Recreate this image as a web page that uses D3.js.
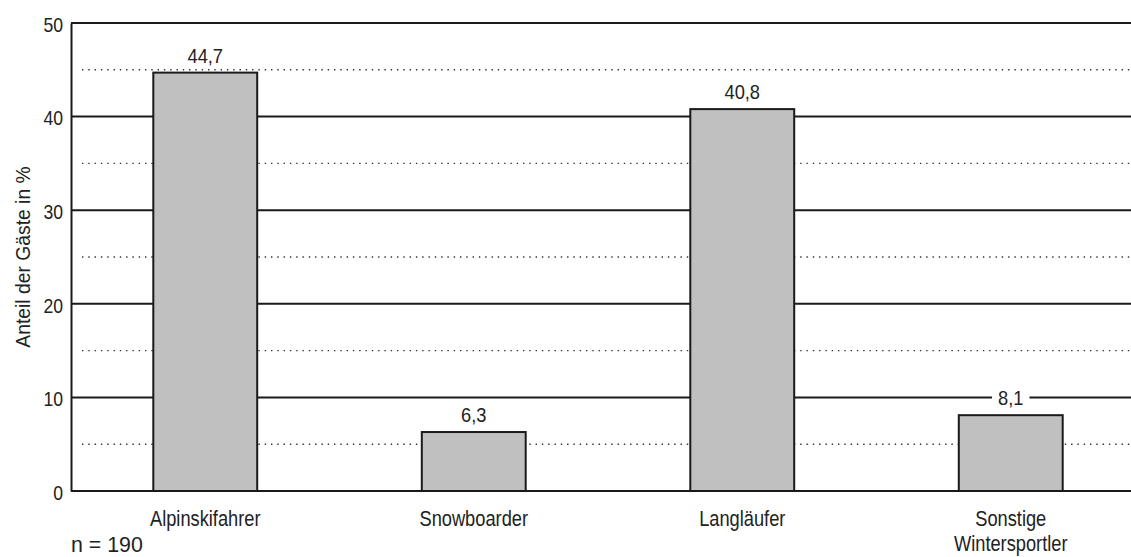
<!DOCTYPE html>
<html>
<head>
<meta charset="utf-8">
<script src="https://cdn.jsdelivr.net/npm/d3@7"></script>
<style>
  html, body { margin: 0; padding: 0; background: #fff; }
  svg { display: block; font-family: "Liberation Sans", Arial, sans-serif; }
</style>
</head>
<body>
<svg id="chart" width="1131" height="557"></svg>
<script>
// Wintersportarten der Gäste (Anteil in %)
const categories = ["Alpinskifahrer", "Snowboarder", "Langläufer", "Sonstige\nWintersportler"];
const shares = [44.7, 6.3, 40.8, 8.1];
const valueLabels = ["44,7", "6,3", "40,8", "8,1"];
const majorTicks = [0, 10, 20, 30, 40, 50];
const minorTicks = [5, 15, 25, 35, 45];
const yTitle = "Anteil der Gäste in %";
const sampleNote = "n = 190";

const W = 1131, H = 557;
const plotLeft = 71, plotTop = 23, plotBottom = 491;
const ink = "#222";

const svg = d3.select("#chart");

// condensed lettering: place at (px, py) and squeeze horizontally
const narrow = (px, py, sx, rot) =>
  `translate(${px},${py})${rot ? ` rotate(${rot})` : ""} scale(${sx},1)`;

const x = d3.scaleBand()
  .domain(categories)
  .range([plotLeft, plotLeft + 4 * 268.5])
  .paddingInner(0.613)
  .paddingOuter(0.3065);

const y = d3.scaleLinear().domain([0, 50]).range([plotBottom, plotTop]);

// dotted intermediate lines
svg.append("g")
  .selectAll("line")
  .data(minorTicks)
  .join("line")
  .attr("x1", plotLeft + 11).attr("x2", W)
  .attr("y1", d => y(d)).attr("y2", d => y(d))
  .attr("stroke", "#333")
  .attr("stroke-width", 1.4)
  .attr("stroke-dasharray", "1.4,4.9");

// solid grid lines (including the baseline)
svg.append("g")
  .selectAll("line")
  .data(majorTicks)
  .join("line")
  .attr("x1", plotLeft).attr("x2", W)
  .attr("y1", d => y(d)).attr("y2", d => y(d))
  .attr("stroke", "#1a1a1a")
  .attr("stroke-width", 2);

// y axis with labels, no outer ticks
const yAxis = svg.append("g")
  .attr("transform", `translate(${plotLeft},0)`)
  .call(d3.axisLeft(y).tickValues(majorTicks).tickSize(0).tickFormat(d3.format("d")));
yAxis.select(".domain").attr("stroke", "#1a1a1a").attr("stroke-width", 2);
yAxis.selectAll("text")
  .attr("font-family", null)
  .attr("font-size", 20)
  .attr("fill", ink)
  .attr("x", null)
  .attr("dy", "0.36em")
  .attr("transform", narrow(-8, 1, 0.88));

// bars
svg.append("g")
  .selectAll("rect")
  .data(categories)
  .join("rect")
  .attr("x", d => x(d))
  .attr("width", x.bandwidth())
  .attr("y", (d, i) => y(shares[i]))
  .attr("height", (d, i) => y(0) - y(shares[i]))
  .attr("fill", "#c0c0c0")
  .attr("stroke", "#1a1a1a")
  .attr("stroke-width", 2);

// value labels with a white backing that cuts through grid lines
const vl = svg.append("g")
  .selectAll("g")
  .data(categories)
  .join("g")
  .attr("transform", (d, i) => `translate(${x(d) + x.bandwidth() / 2},${y(shares[i]) - 10})`);
vl.append("text")
  .attr("text-anchor", "middle")
  .attr("font-size", 21)
  .attr("fill", ink)
  .attr("transform", narrow(0, 0, 0.87))
  .text((d, i) => valueLabels[i]);
vl.each(function () {
  const g = d3.select(this);
  const b = g.select("text").node().getBBox();
  const w = b.width * 0.87;
  g.insert("rect", "text")
    .attr("x", -w / 2 - 6).attr("y", b.y + 3)
    .attr("width", w + 12).attr("height", b.height - 6)
    .attr("fill", "#fff");
});

// category labels
svg.append("g")
  .selectAll("text")
  .data(categories)
  .join("text")
  .attr("text-anchor", "middle")
  .attr("font-size", 22)
  .attr("fill", ink)
  .attr("transform", d => narrow(x(d) + x.bandwidth() / 2, 526, 0.83))
  .each(function (d) {
    const t = d3.select(this);
    d.split("\n").forEach((line, k) => {
      t.append("tspan").attr("x", 0).attr("dy", k === 0 ? 0 : 25).text(line);
    });
  });

// y axis title
svg.append("text")
  .attr("transform", narrow(30, (plotTop + plotBottom) / 2, 0.92, -90))
  .attr("text-anchor", "middle")
  .attr("font-size", 21)
  .attr("fill", ink)
  .text(yTitle);

// sample size
svg.append("text")
  .attr("transform", narrow(71, 552, 0.97))
  .attr("font-size", 22)
  .attr("fill", ink)
  .text(sampleNote);
</script>
</body>
</html>
